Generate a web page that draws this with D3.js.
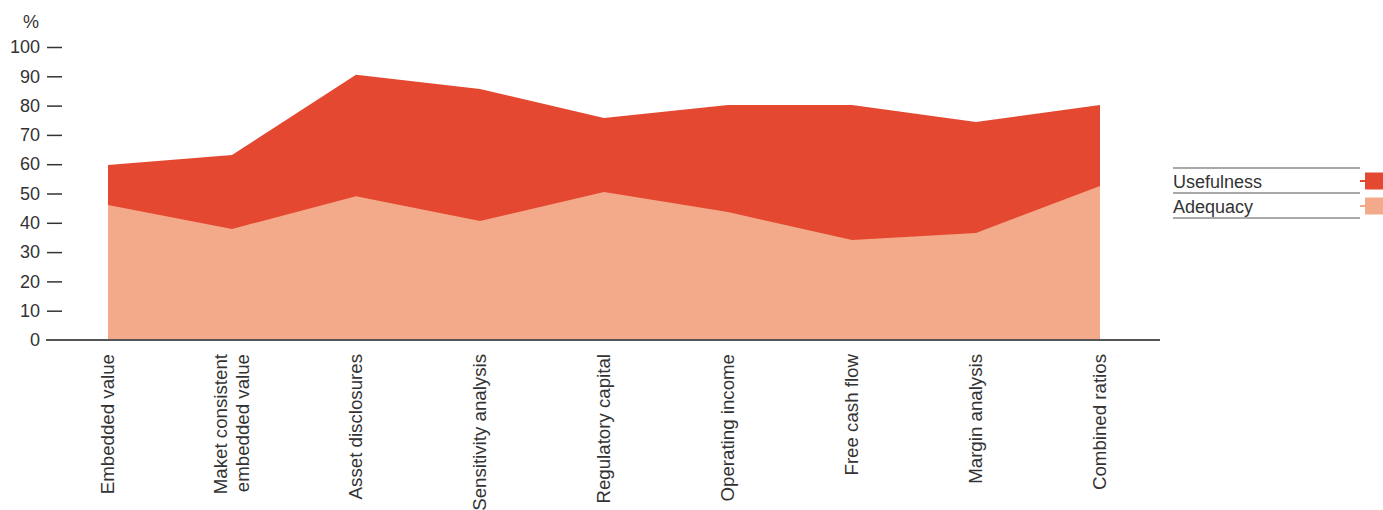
<!doctype html>
<html>
  <head>
    <script src="https://cdn.jsdelivr.net/npm/d3@7"></script>
    <style>
      body { margin: 0; background: #fff; }
      text { font-family: "Liberation Sans", Arial, Helvetica, sans-serif; fill: #333; }
    </style>
  </head>
  <body>
    <div id="my_dataviz"></div>
    <script>
      // categories (use \n for two-line labels)
      var categories = ["Embedded value", "Maket consistent\nembedded value", "Asset disclosures",
        "Sensitivity analysis", "Regulatory capital", "Operating income",
        "Free cash flow", "Margin analysis", "Combined ratios"];
      // series values, in %
      var usefulness = [59.7, 63.1, 90.5, 85.7, 75.8, 80.2, 80.2, 74.4, 80.2];
      var adequacy = [46.1, 37.9, 49.1, 40.6, 50.5, 43.7, 34.1, 36.5, 52.6];
      var yTicks = [0, 10, 20, 30, 40, 50, 60, 70, 80, 90, 100];
      var seriesNames = ["Usefulness", "Adequacy"];
      var colors = ["#e54830", "#f3aa8b"];

      var width = 1383, height = 510;

      var svg = d3.select("#my_dataviz")
        .append("svg")
          .attr("width", width)
          .attr("height", height);

      // scales
      var x = d3.scalePoint()
        .domain(d3.range(categories.length))
        .range([108, 1100]);
      var y = d3.scaleLinear()
        .domain([0, 100])
        .range([340, 47]);

      // areas, drawn overlapping from zero (usefulness behind)
      var area = d3.area()
        .x(function(d, i) { return x(i); })
        .y0(y(0))
        .y1(function(d) { return y(d); });

      svg.selectAll("myAreas")
        .data([usefulness, adequacy])
        .enter()
        .append("path")
          .attr("d", function(d) { return area(d); })
          .attr("fill", function(d, i) { return colors[i]; });

      // Y axis
      var yAxis = svg.append("g")
        .attr("transform", "translate(62,0)")
        .call(d3.axisLeft(y).tickValues(yTicks).tickSize(15).tickPadding(7));
      yAxis.select(".domain").remove();
      yAxis.selectAll(".tick line").attr("stroke", "#333").attr("stroke-width", 1.5);
      yAxis.selectAll(".tick text")
        .style("font-size", "18px")
        .attr("fill", "#333");
      // hide the 0 tick dash, the baseline covers it
      yAxis.selectAll(".tick").filter(function(d) { return d === 0; }).select("line").remove();

      svg.append("text")
        .attr("x", 31)
        .attr("y", 28)
        .attr("text-anchor", "middle")
        .style("font-size", "18px")
        .text("%");

      // baseline
      svg.append("line")
        .attr("x1", 46).attr("x2", 1160)
        .attr("y1", y(0)).attr("y2", y(0))
        .attr("stroke", "#555")
        .attr("stroke-width", 2);

      // X labels, rotated
      var labels = svg.selectAll("myLabels")
        .data(categories)
        .enter()
        .append("text")
          .attr("transform", function(d, i) { return "translate(" + x(i) + ",354) rotate(-90)"; })
          .attr("text-anchor", "end")
          .style("font-size", "18.7px");
      labels.each(function(d) {
        var lines = d.split("\n");
        var t = d3.select(this);
        lines.forEach(function(l, k) {
          var off = 6 + (k - (lines.length - 1) / 2) * 22;
          t.append("tspan")
            .attr("x", 0)
            .attr("y", off)
            .text(l);
        });
      });

      // legend
      var legend = svg.append("g");
      [168, 193, 218].forEach(function(ly) {
        legend.append("line")
          .attr("x1", 1173).attr("x2", 1360)
          .attr("y1", ly).attr("y2", ly)
          .attr("stroke", "#555")
          .attr("stroke-width", 1.2);
      });
      seriesNames.forEach(function(name, i) {
        var cy = 181 + i * 25;
        legend.append("text")
          .attr("x", 1173)
          .attr("y", cy + 7)
          .style("font-size", "18px")
          .text(name);
        legend.append("line")
          .attr("x1", 1360).attr("x2", 1383)
          .attr("y1", cy).attr("y2", cy)
          .attr("stroke", colors[i])
          .attr("stroke-width", 2);
        legend.append("rect")
          .attr("x", 1365).attr("y", cy - 8.5)
          .attr("width", 18).attr("height", 17)
          .attr("fill", colors[i]);
      });
    </script>
  </body>
</html>
